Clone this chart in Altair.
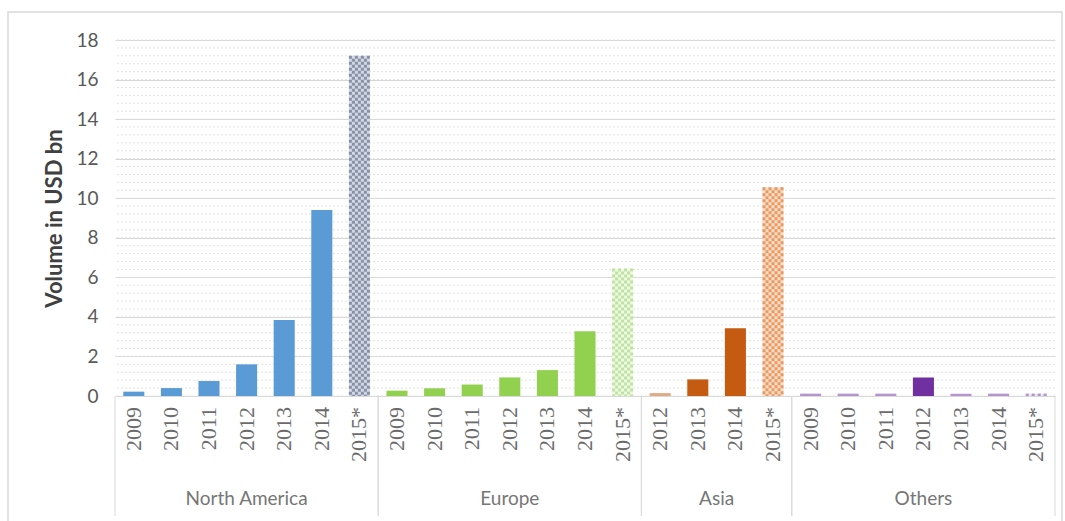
import altair as alt
import pandas as pd

# ---- data ----
regions = ["North America", "Europe", "Asia", "Others"]
na_years = ["2009", "2010", "2011", "2012", "2013", "2014", "2015*"]
na_values = [0.22, 0.40, 0.76, 1.60, 3.84, 9.40, 17.20]
eu_years = ["2009", "2010", "2011", "2012", "2013", "2014", "2015*"]
eu_values = [0.27, 0.39, 0.58, 0.94, 1.31, 3.28, 6.45]
asia_years = ["2012", "2013", "2014", "2015*"]
asia_values = [0.15, 0.84, 3.42, 10.55]
oth_years = ["2009", "2010", "2011", "2012", "2013", "2014", "2015*"]
oth_values = [0.12, 0.12, 0.12, 0.94, 0.12, 0.12, 0.12]
y_ticks = [0, 2, 4, 6, 8, 10, 12, 14, 16, 18]

rows = []
i = 0
for reg, yrs, vals in zip(regions, [na_years, eu_years, asia_years, oth_years],
                          [na_values, eu_values, asia_values, oth_values]):
    for yr, v in zip(yrs, vals):
        rows.append(dict(region=reg, year=yr, value=v, idx=i, forecast=yr.endswith("*")))
        i += 1
df = pd.DataFrame(rows)
N = len(df)

W, H = 940, 356

xscale = alt.Scale(domain=[0, N], nice=False, zero=False)
yscale = alt.Scale(domain=[0, 18], nice=False)
yaxis = alt.Axis(values=y_ticks, grid=True, gridColor="#d6d6d6", domain=False, ticks=False,
                 labelFont="Lato", labelFontSize=19, labelColor="#595959", labelPadding=17,
                 title="Volume in USD bn", titleFont="Lato", titleFontSize=22,
                 titleFontWeight="bold", titleColor="#404040", titlePadding=9)

def Y(field):
    return alt.Y(field, scale=yscale, axis=yaxis)

def X(field):
    return alt.X(field, scale=xscale, axis=None)

base = alt.Chart(df).transform_calculate(
    x0="datum.idx + 0.22", x1="datum.idx + 0.78", xc="datum.idx + 0.5"
)

# minor dotted grid
minor = alt.Chart(alt.sequence(0, 18.1, 0.4, as_="v")).mark_rule(
    color="#e2e2e2", strokeDash=[2, 2], strokeWidth=1
).encode(y=Y("v:Q"))

actual_scale = alt.Scale(domain=regions, range=["#5B9BD5", "#92D050", "#C55A11", "#7030A0"])
light_scale = alt.Scale(domain=regions, range=["#d3d8e2", "#eff8e5", "#f9ddc8", "#e9e3f2"])
dark_scale = alt.Scale(domain=regions, range=["#8792a8", "#c0e39f", "#e89a62", "#ad98c6"])

bars = base.transform_filter("!datum.forecast").mark_bar().encode(
    x=X("x0:Q"), x2="x1:Q", y=Y("value:Q"), y2=alt.datum(0),
    color=alt.Color("region:N", scale=actual_scale, legend=None),
    opacity=alt.condition("datum.value < 0.2", alt.value(0.5), alt.value(1.0)),
)

fc = base.transform_filter("datum.forecast")
fc_base = fc.mark_bar().encode(
    x=X("x0:Q"), x2="x1:Q", y=Y("value:Q"), y2=alt.datum(0),
    color=alt.Color("region:N", scale=light_scale, legend=None),
)

checker = []
for k, off in enumerate([-9, -6, -3, 0, 3, 6, 9]):
    checker.append(
        fc.mark_rule(strokeWidth=3, strokeDash=[3, 3], strokeDashOffset=3 * (k % 2),
                     xOffset=off).encode(
            x=X("xc:Q"), y=Y("value:Q"), y2=alt.datum(0),
            color=alt.Color("region:N", scale=dark_scale, legend=None),
        )
    )

year_labels = base.mark_text(
    angle=270, align="right", baseline="middle", font="Liberation Serif",
    fontSize=22, color="#6b6b6b"
).encode(x=X("xc:Q"), y=alt.value(H + 11), text="year:N")

groups = alt.Chart(df).transform_aggregate(
    lo="min(idx)", hi="max(idx)", groupby=["region"]
).transform_calculate(center="(datum.lo + datum.hi + 1) / 2", right="datum.hi + 1")

region_labels = groups.mark_text(
    font="Lato", fontSize=19, color="#767676", baseline="middle", align="center"
).encode(x=X("center:Q"), y=alt.value(H + 103), text="region:N")

sep_left = groups.mark_rule(color="#d9d9d9", strokeWidth=1).encode(
    x=X("lo:Q"), y=alt.value(H), y2=alt.value(H + 120)
)
sep_right = groups.mark_rule(color="#d9d9d9", strokeWidth=1).encode(
    x=X("right:Q"), y=alt.value(H), y2=alt.value(H + 120)
)

frame = alt.Chart(pd.DataFrame({"a": [0]})).mark_rect(
    fillOpacity=0, stroke="#d9d9d9", strokeWidth=1.5
).encode(x=alt.value(-107), x2=alt.value(947), y=alt.value(-28), y2=alt.value(520))

chart = alt.layer(
    minor, bars, fc_base, *checker, year_labels, region_labels, sep_left, sep_right, frame
).resolve_scale(color="independent").properties(
    width=W, height=H,
    autosize=alt.AutoSizeParams(type="none"),
    padding={"left": 115, "top": 40, "right": 10, "bottom": 125},
    background="white",
).configure_view(strokeWidth=0)

chart.save("out.html", embed_options={"renderer": "svg", "actions": False})
